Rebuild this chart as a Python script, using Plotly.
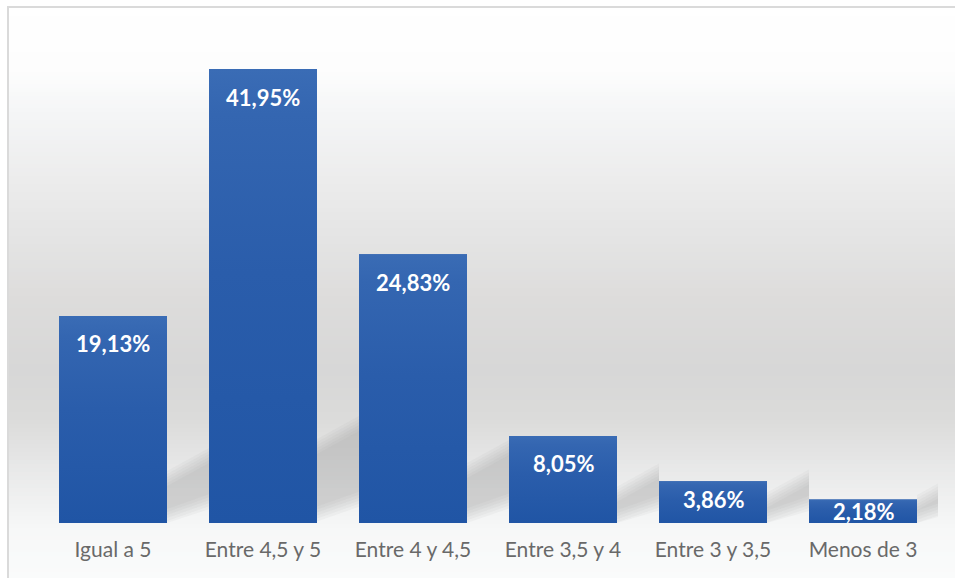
import plotly.graph_objects as go

# Distribución de calificaciones
categorias = ["Igual a 5", "Entre 4,5 y 5", "Entre 4 y 4,5", "Entre 3,5 y 4", "Entre 3 y 3,5", "Menos de 3"]
porcentajes = [19.13, 41.95, 24.83, 8.05, 3.86, 2.18]

W, H = 955, 578
M_L, M_R, M_T, M_B = 38, 17, 36, 55
Y_MAX = 45.0
BAR_W = 0.72

plot_w = W - M_L - M_R
plot_h = H - M_T - M_B
px_per_unit = plot_h / Y_MAX


def px_x(px):
    return (px - M_L) / plot_w


def px_y(py):
    return (H - M_B - py) / plot_h


def hex_rgb(h):
    h = h.lstrip("#")
    return tuple(int(h[i:i + 2], 16) for i in (0, 2, 4))


def lerp_color(stops, py):
    for (y0, c0), (y1, c1) in zip(stops, stops[1:]):
        if y0 <= py <= y1:
            t = (py - y0) / (y1 - y0) if y1 > y0 else 0
            a, b = hex_rgb(c0), hex_rgb(c1)
            return "rgb(%d,%d,%d)" % tuple(round(a[k] + (b[k] - a[k]) * t) for k in range(3))
    return stops[-1][1]


# vertical backdrop gradient (pixel row -> colour)
bg_stops = [
    (0, "#ffffff"), (70, "#fdfdfd"), (110, "#f5f6f7"), (180, "#ececec"),
    (240, "#e4e4e4"), (300, "#dddcdb"), (370, "#d7d7d7"), (420, "#dbdbda"),
    (460, "#e6e6e6"), (500, "#f0f1f1"), (530, "#f7f8f8"), (578, "#fafbfb"),
]

shapes = []
step = 4
for py in range(8, H + 4, step):
    shapes.append(dict(
        type="rect", xref="paper", yref="paper", layer="below",
        x0=px_x(9), x1=px_x(W), y0=px_y(py), y1=px_y(py + step + 0.6),
        fillcolor=lerp_color(bg_stops, py + step / 2), line=dict(width=0),
    ))

# soft cast shadows behind each bar (stacked translucent layers)
for i, v in enumerate(porcentajes):
    h_px = v * px_per_unit
    xr = i + BAR_W / 2
    run = 1 - BAR_W
    for k in range(6):
        grow = (5 - k) * 3
        lo0 = 12 + 0.01 * h_px - grow
        hi0 = 10 + 0.13 * h_px + grow
        lo1 = lo0 + 0.35 * run * 150
        hi1 = hi0 + 0.55 * run * 150
        path = "M {x0},{a} L {x1},{b} L {x1},{c} L {x0},{d} Z".format(
            x0=xr, x1=xr + run,
            a=max(lo0, 0) / px_per_unit, b=max(lo1, 0) / px_per_unit,
            c=hi1 / px_per_unit, d=hi0 / px_per_unit,
        )
        shapes.append(dict(type="path", xref="x", yref="y", layer="below", path=path,
                           fillcolor="rgba(130,130,130,0.06)", line=dict(width=0)))

# outer frame: left and top edges only
frame_path = "M {x0},{yb} L {x0},{yt} L {x1},{yt}".format(
    x0=px_x(8), x1=px_x(W), yt=px_y(7), yb=px_y(H))
shapes.append(dict(type="path", xref="paper", yref="paper", layer="above",
                   path=frame_path, line=dict(color="#dadada", width=2)))

x_pos = list(range(len(categorias)))

fig = go.Figure()
fig.add_trace(go.Bar(
    x=x_pos, y=porcentajes, width=BAR_W,
    marker=dict(color="#2b5dab", line=dict(width=0)),
    hoverinfo="skip", showlegend=False,
))

# vertical gradient fill on each bar
for i, v in enumerate(porcentajes):
    fig.add_trace(go.Scatter(
        x=[i - BAR_W / 2, i + BAR_W / 2, i + BAR_W / 2, i - BAR_W / 2, i - BAR_W / 2],
        y=[0, 0, v, v, 0],
        mode="lines", fill="toself", line=dict(width=0),
        fillgradient=dict(type="vertical",
                          colorscale=[[0, "#2055a5"], [0.55, "#2a5dab"], [0.9, "#3466b1"], [1, "#3a6cb5"]]),
        hoverinfo="skip", showlegend=False,
    ))

annotations = []
for i, v in enumerate(porcentajes):
    h_px = v * px_per_unit
    offset = min(28, max(12, h_px - 24))
    annotations.append(dict(
        x=i, y=v, xref="x", yref="y",
        text=("%.2f" % v).replace(".", ",") + "%",
        showarrow=False, yanchor="middle", yshift=-offset,
        font=dict(family="Lato", size=22, color="#ffffff", weight="bold"),
    ))

fig.update_layout(
    width=W, height=H,
    margin=dict(l=M_L, r=M_R, t=M_T, b=M_B),
    paper_bgcolor="#ffffff", plot_bgcolor="rgba(0,0,0,0)",
    shapes=shapes, annotations=annotations,
    bargap=1 - BAR_W,
    xaxis=dict(
        range=[-0.5, len(categorias) - 0.5], tickmode="array",
        tickvals=x_pos, ticktext=categorias, showgrid=False, zeroline=False,
        showline=False, ticks="", ticklabelstandoff=12,
        tickfont=dict(family="Lato", size=21, color="#696969"),
        fixedrange=True,
    ),
    yaxis=dict(range=[0, Y_MAX], visible=False, showgrid=False, zeroline=False, fixedrange=True),
)

fig.write_html("out.html", config=dict(displayModeBar=False))
